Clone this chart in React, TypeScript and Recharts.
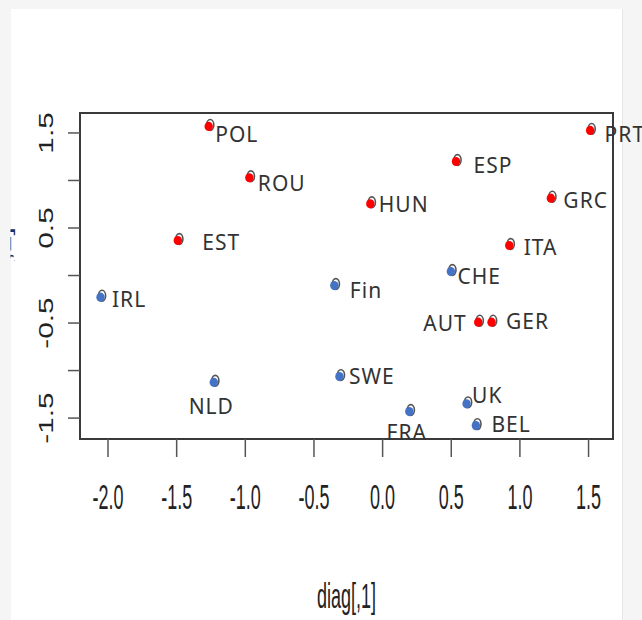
import { ReferenceArea, Scatter, ScatterChart, XAxis, YAxis } from "recharts";

// country codes and their coordinates on the two diagnostic dimensions
const countries = ["POL", "ROU", "EST", "PRT", "ESP", "HUN", "GRC", "ITA", "AUT", "GER", "CHE", "Fin", "IRL", "NLD", "SWE", "UK", "BEL", "FRA"];
const dim1 = [-1.263, -0.967, -1.488, 1.515, 0.538, -0.086, 1.229, 0.926, 0.7, 0.797, 0.501, -0.348, -2.051, -1.226, -0.311, 0.615, 0.683, 0.198];
const dim2 = [1.574, 1.034, 0.374, 1.532, 1.205, 0.76, 0.819, 0.321, -0.486, -0.486, 0.047, -0.1, -0.223, -1.118, -1.058, -1.345, -1.574, -1.426];
const cluster = [1, 1, 1, 1, 1, 1, 1, 1, 1, 1, 2, 2, 2, 2, 2, 2, 2, 2];

const xTicks = [-2, -1.5, -1, -0.5, 0, 0.5, 1, 1.5];
const xTickLabels = ["-2.0", "-1.5", "-1.0", "-0.5", "0.0", "0.5", "1.0", "1.5"];
const yTicks = [-1.5, -1, -0.5, 0, 0.5, 1, 1.5];
const yTickLabels = ["-1.5", "", "-0.5", "", "0.5", "", "1.5"];

const X_DOMAIN: [number, number] = [-2.204, 1.678];
const Y_DOMAIN: [number, number] = [-1.72, 1.71];

const clusterColor: Record<number, string> = { 1: "#ff0000", 2: "#4472c4" };

// where each country name sits relative to its point
const labelLayout: Record<string, { dx: number; dy: number; anchor: "start" | "middle" | "end" }> = {
    POL: { dx: 6, dy: 8, anchor: "start" },
    ROU: { dx: 8, dy: 6, anchor: "start" },
    EST: { dx: 24, dy: 2, anchor: "start" },
    PRT: { dx: 14, dy: 4, anchor: "start" },
    ESP: { dx: 17, dy: 4, anchor: "start" },
    HUN: { dx: 8, dy: 1, anchor: "start" },
    GRC: { dx: 12, dy: 2, anchor: "start" },
    ITA: { dx: 14, dy: 2, anchor: "start" },
    AUT: { dx: -12, dy: 1, anchor: "end" },
    GER: { dx: 14, dy: -1, anchor: "start" },
    CHE: { dx: 6, dy: 5, anchor: "start" },
    Fin: { dx: 15, dy: 5, anchor: "start" },
    IRL: { dx: 11, dy: 2, anchor: "start" },
    NLD: { dx: -3, dy: 24, anchor: "middle" },
    SWE: { dx: 9, dy: 0, anchor: "start" },
    UK: { dx: 5, dy: -8, anchor: "start" },
    BEL: { dx: 15, dy: -1, anchor: "start" },
    FRA: { dx: -3, dy: 21, anchor: "middle" },
};

const points = countries.map((name, i) => ({ name, x: dim1[i], y: dim2[i], cluster: cluster[i] }));

const CountryMark = ({ cx, cy, payload, color }: any) => {
    const lay = labelLayout[payload.name] || { dx: 8, dy: 0, anchor: "start" };
    return (
        <g>
            <ellipse cx={cx + 1} cy={cy - 1} rx={3.6} ry={5.4} fill="#fff" stroke="#555" strokeWidth={1.6} />
            <ellipse cx={cx - 0.5} cy={cy + 0.5} rx={4.2} ry={4.6} fill={color} />
            <text
                x={cx + lay.dx}
                y={cy + lay.dy}
                textAnchor={lay.anchor}
                dominantBaseline="central"
                fontFamily="'Noto Sans', sans-serif"
                fontSize={21}
                letterSpacing={1}
                fill="#333"
            >
                {payload.name}
            </text>
        </g>
    );
};

const XTick = ({ x, y, payload }: any) => {
    const idx = xTicks.indexOf(payload.value);
    return (
        <text
            transform={`translate(${x},${y + 38}) scale(0.75,1.45)`}
            textAnchor="middle"
            dominantBaseline="central"
            fontFamily="'Liberation Sans', Arial, sans-serif"
            fontSize={24}
            fill="#222"
        >
            {xTickLabels[idx]}
        </text>
    );
};

const YTick = ({ x, y, payload }: any) => {
    const idx = yTicks.indexOf(payload.value);
    const label = yTickLabels[idx];
    if (!label) return null;
    return (
        <text
            transform={`translate(${x - 20},${y}) rotate(-90) scale(1.42,1)`}
            textAnchor="middle"
            dominantBaseline="central"
            fontFamily="'Liberation Sans', Arial, sans-serif"
            fontSize={21}
            fill="#222"
        >
            {label}
        </text>
    );
};

const XTitle = ({ viewBox }: any) => (
    <text
        transform={`translate(${viewBox.x + viewBox.width / 2},${viewBox.y + 157}) scale(0.75,1.45)`}
        textAnchor="middle"
        dominantBaseline="central"
        fontFamily="'Liberation Sans', Arial, sans-serif"
        fontSize={24}
        fill="#222"
    >
        diag[,1]
    </text>
);

// the y title is mostly hidden behind the page edge in the original
const YTitle = ({ viewBox }: any) => (
    <g>
        <defs>
            <clipPath id="ytitle-clip">
                <rect x={11} y={0} width={100} height={620} />
            </clipPath>
        </defs>
        <text
            clipPath="url(#ytitle-clip)"
            transform={`translate(10.5,${viewBox.y + viewBox.height / 2}) rotate(-90) scale(1.42,1)`}
            textAnchor="middle"
            fontFamily="'Liberation Sans', Arial, sans-serif"
            fontSize={21}
            fill="#1e2f55"
        >
            diag[,2]
        </text>
    </g>
);

export default function App() {
    return (
        <div style={{ position: "absolute", left: 0, top: 0, width: 642, height: 620, background: "#f5f5f5" }}>
            <div
                style={{
                    position: "absolute",
                    left: 11,
                    top: 9,
                    width: 611,
                    height: 611,
                    background: "#fff",
                    borderRight: "1px solid #e6e6e6",
                }}
            />
            <div style={{ position: "absolute", left: 0, top: 0 }}>
                <ScatterChart width={642} height={620} margin={{ top: 113, right: 29, left: 0, bottom: 0 }} style={{ overflow: "visible" }}>
                    <XAxis
                        type="number"
                        dataKey="x"
                        domain={X_DOMAIN}
                        ticks={xTicks}
                        height={181}
                        axisLine={false}
                        tickSize={18}
                        tickLine={{ stroke: "#555", strokeWidth: 1.5 }}
                        tick={<XTick />}
                        interval={0}
                        label={(p: any) => <XTitle {...p} />}
                    />
                    <YAxis
                        type="number"
                        dataKey="y"
                        domain={Y_DOMAIN}
                        ticks={yTicks}
                        width={80}
                        axisLine={false}
                        tickSize={12}
                        tickLine={{ stroke: "#555", strokeWidth: 1.5 }}
                        tick={<YTick />}
                        interval={0}
                        label={(p: any) => <YTitle {...p} />}
                    />
                    <ReferenceArea
                        x1={X_DOMAIN[0]}
                        x2={X_DOMAIN[1]}
                        y1={Y_DOMAIN[0]}
                        y2={Y_DOMAIN[1]}
                        fill="none"
                        stroke="#3a3a3a"
                        strokeWidth={2}
                    />
                    <Scatter
                        data={points.filter((p) => p.cluster === 1)}
                        isAnimationActive={false}
                        shape={(props: any) => <CountryMark {...props} color={clusterColor[1]} />}
                    />
                    <Scatter
                        data={points.filter((p) => p.cluster === 2)}
                        isAnimationActive={false}
                        shape={(props: any) => <CountryMark {...props} color={clusterColor[2]} />}
                    />
                </ScatterChart>
            </div>
        </div>
    );
}
